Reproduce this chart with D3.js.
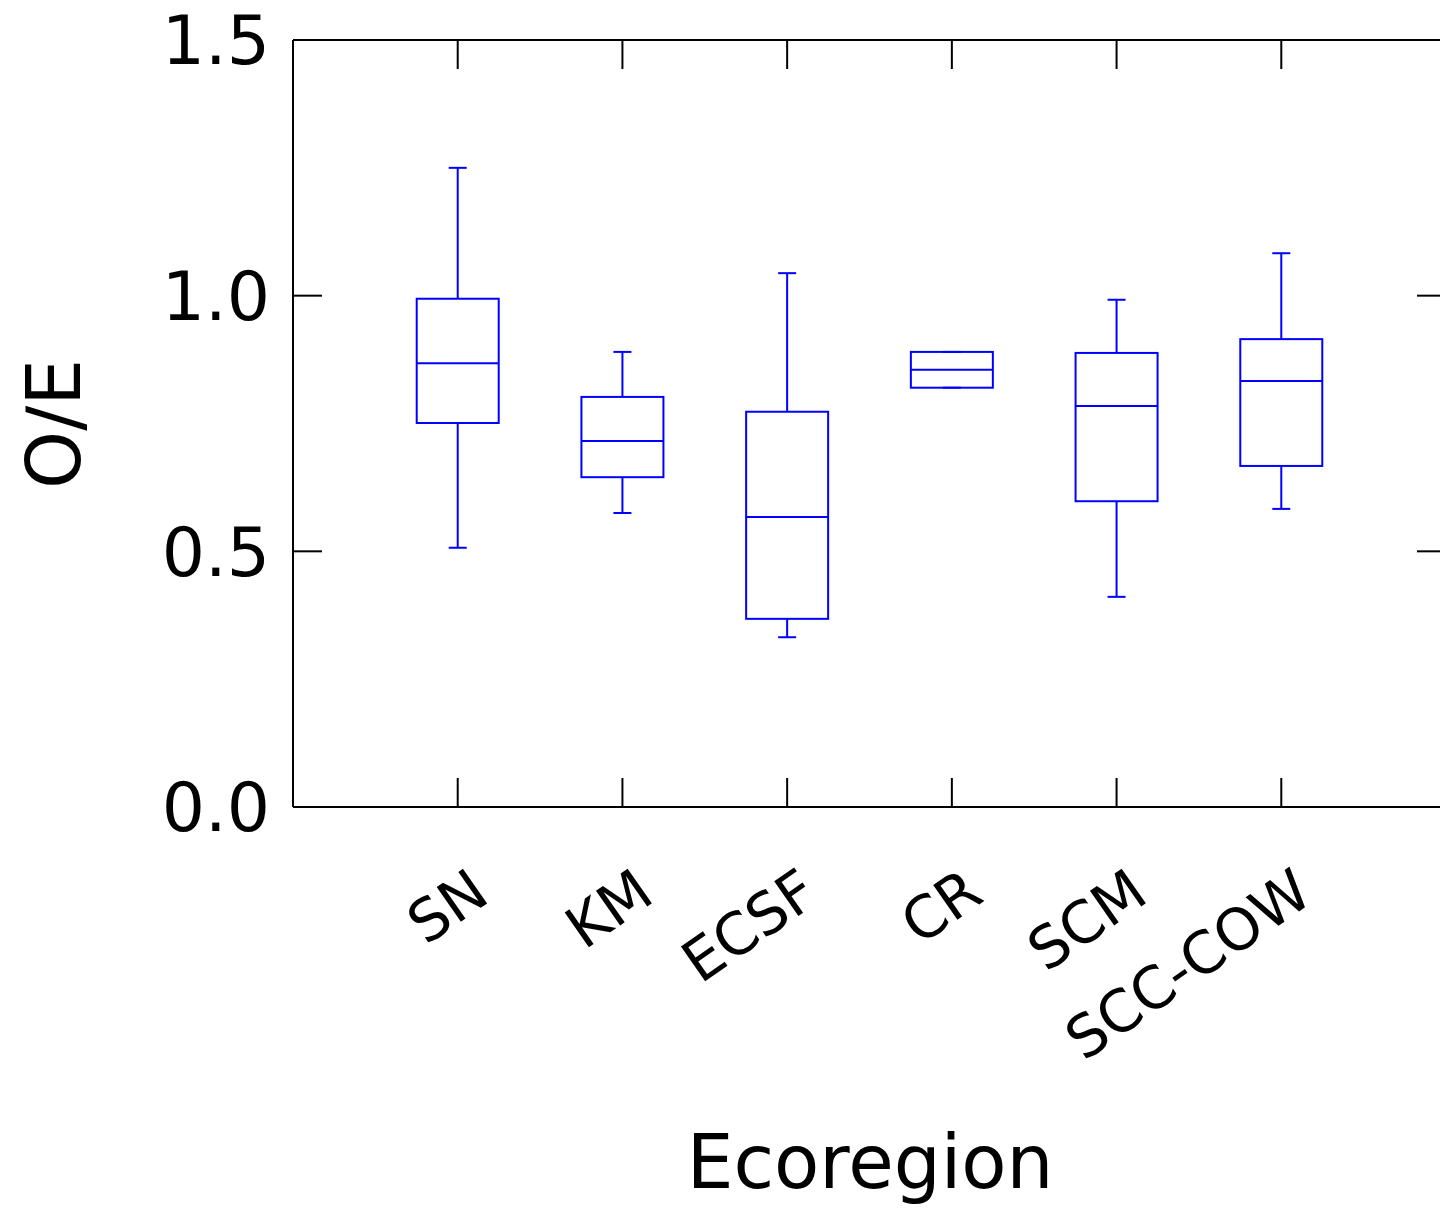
<!DOCTYPE html>
<html>
<head>
<meta charset="utf-8">
<script src="https://cdn.jsdelivr.net/npm/d3@7"></script>
<style>
  body { margin: 0; background: #fff; }
  svg text { font-family: "Comic Sans MS", "DejaVu Sans", sans-serif; fill: #000; }
</style>
</head>
<body>
<svg id="svg" width="1440" height="1210"></svg>
<script>
// box summaries
var regions  = ["SN", "KM", "ECSF", "CR", "SCM", "SCC-COW"];
var whiskLo  = [0.507, 0.575, 0.332, 0.820, 0.411, 0.583];
var q1       = [0.751, 0.645, 0.368, 0.820, 0.598, 0.667];
var medians  = [0.868, 0.716, 0.567, 0.855, 0.784, 0.833];
var q3       = [0.994, 0.802, 0.773, 0.890, 0.888, 0.915];
var whiskHi  = [1.250, 0.890, 1.044, 0.890, 0.992, 1.083];
var yTicks   = [0.0, 0.5, 1.0, 1.5];

var boxes = regions.map(function(r, i) {
    return { name: r, lo: whiskLo[i], q1: q1[i], med: medians[i], q3: q3[i], hi: whiskHi[i] };
});

var plotLeft = 293, plotRight = 1446, plotTop = 40, plotBottom = 807;
var tickLen = 29;

var svg = d3.select("#svg");

// 6 groups spaced as positions 1..6 of 0..7
var x = d3.scaleLinear().domain([0, 7]).range([plotLeft, plotRight]);
var y = d3.scaleLinear().domain([0, 1.5]).range([plotBottom, plotTop]);

var frame = svg.append("g").attr("stroke", "#000").attr("stroke-width", 2).attr("fill", "none");
frame.append("line").attr("x1", plotLeft).attr("x2", plotLeft).attr("y1", plotTop).attr("y2", plotBottom);
frame.append("line").attr("x1", plotLeft).attr("x2", plotRight).attr("y1", plotTop).attr("y2", plotTop);
frame.append("line").attr("x1", plotLeft).attr("x2", plotRight).attr("y1", plotBottom).attr("y2", plotBottom);

// y ticks, both sides, pointing inward
yTicks.forEach(function(t) {
    frame.append("line").attr("x1", plotLeft).attr("x2", plotLeft + tickLen).attr("y1", y(t)).attr("y2", y(t));
    frame.append("line").attr("x1", 1440).attr("x2", 1440 - tickLen + 6).attr("y1", y(t)).attr("y2", y(t));
});
// x ticks, top and bottom
boxes.forEach(function(b, i) {
    var cx = x(i + 1);
    frame.append("line").attr("x1", cx).attr("x2", cx).attr("y1", plotTop).attr("y2", plotTop + tickLen);
    frame.append("line").attr("x1", cx).attr("x2", cx).attr("y1", plotBottom).attr("y2", plotBottom - tickLen);
});

svg.selectAll(".ytick").data(yTicks).enter().append("text")
    .attr("x", 270).attr("y", function(d) { return y(d); })
    .attr("dy", "0.36em")
    .attr("text-anchor", "end")
    .attr("font-size", 68)
    .text(function(d) { return d.toFixed(1); });

svg.selectAll(".xlab").data(boxes).enter().append("text")
    .attr("text-anchor", "end")
    .attr("font-size", 58)
    .attr("transform", function(d, i) {
        return "translate(" + (x(i + 1) + 34) + "," + 900 + ") rotate(-35)";
    })
    .text(function(d) { return d.name; });

svg.append("text")
    .attr("x", 870).attr("y", 1188)
    .attr("text-anchor", "middle")
    .attr("font-size", 74)
    .text("Ecoregion");

svg.append("text")
    .attr("transform", "translate(80," + 424 + ") rotate(-90)")
    .attr("text-anchor", "middle")
    .attr("font-size", 74)
    .text("O/E");

// boxes
var halfW = 41, cap = 9;
var g = svg.selectAll(".box").data(boxes).enter().append("g")
    .attr("stroke", "#0000ff").attr("stroke-width", 2).attr("fill", "none");

g.append("line")
    .attr("x1", function(d, i) { return x(i + 1); }).attr("x2", function(d, i) { return x(i + 1); })
    .attr("y1", function(d) { return y(d.q3); }).attr("y2", function(d) { return y(d.hi); });
g.append("line")
    .attr("x1", function(d, i) { return x(i + 1); }).attr("x2", function(d, i) { return x(i + 1); })
    .attr("y1", function(d) { return y(d.q1); }).attr("y2", function(d) { return y(d.lo); });
g.append("line")
    .attr("x1", function(d, i) { return x(i + 1) - cap; }).attr("x2", function(d, i) { return x(i + 1) + cap; })
    .attr("y1", function(d) { return y(d.hi); }).attr("y2", function(d) { return y(d.hi); });
g.append("line")
    .attr("x1", function(d, i) { return x(i + 1) - cap; }).attr("x2", function(d, i) { return x(i + 1) + cap; })
    .attr("y1", function(d) { return y(d.lo); }).attr("y2", function(d) { return y(d.lo); });
g.append("rect")
    .attr("x", function(d, i) { return x(i + 1) - halfW; })
    .attr("width", halfW * 2)
    .attr("y", function(d) { return y(d.q3); })
    .attr("height", function(d) { return y(d.q1) - y(d.q3); });
g.append("line")
    .attr("x1", function(d, i) { return x(i + 1) - halfW; }).attr("x2", function(d, i) { return x(i + 1) + halfW; })
    .attr("y1", function(d) { return y(d.med); }).attr("y2", function(d) { return y(d.med); });
</script>
</body>
</html>
